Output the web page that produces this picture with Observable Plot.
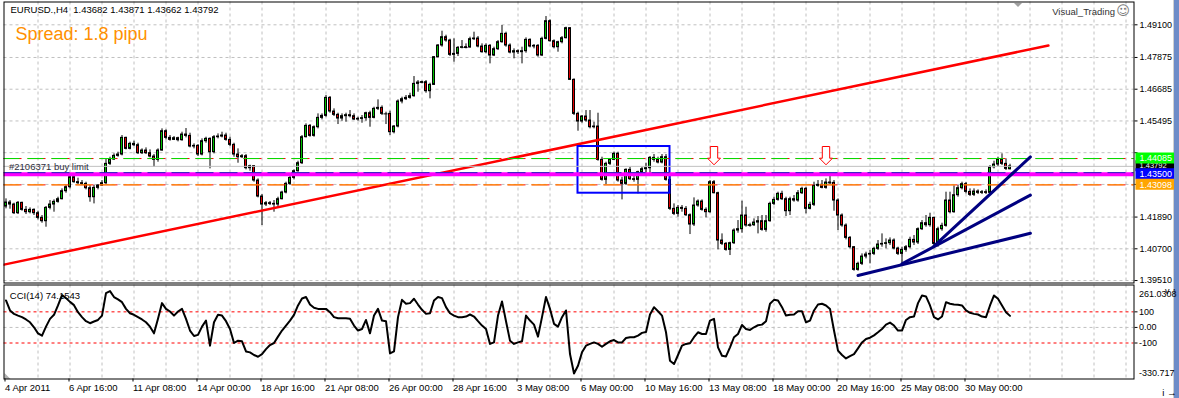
<!DOCTYPE html>
<html><head><meta charset="utf-8">
<script src="https://cdn.jsdelivr.net/npm/d3@7"></script>
<script src="https://cdn.jsdelivr.net/npm/@observablehq/plot@0.6"></script>
<style>
body{margin:0;background:#fff;}
#wrap{position:relative;width:1179px;height:398px;overflow:hidden;background:#fff;}
#wrap svg{position:absolute;left:0;overflow:visible;}
#strip{position:absolute;left:1173px;top:0;width:6px;height:398px;background:#6d8cc8;border-left:1px solid #d0d0d0;}
</style></head><body><div id="wrap"><div id="strip"></div></div>
<script>
const opens = [1.42285,1.42435,1.4236,1.42035,1.42423,1.4216,1.42073,1.4216,1.42035,1.4186,
1.41735,1.42235,1.4236,1.4246,1.4256,1.4286,1.4301,1.43385,1.43198,1.4316,
1.43135,1.42973,1.42635,1.42985,1.43073,1.4316,1.43885,1.44048,1.44185,1.44235,
1.4486,1.44448,1.44635,1.44585,1.44285,1.44385,1.44285,1.4416,1.44035,1.44385,
1.4511,1.4486,1.44785,1.44848,1.44773,1.44985,1.44935,1.44535,1.4456,1.44235,
1.44735,1.44823,1.44323,1.44885,1.4491,1.44948,1.44785,1.44598,1.44235,1.44135,
1.44173,1.43723,1.43798,1.4326,1.4266,1.4236,1.4241,1.42385,1.4236,1.4256,
1.4281,1.43135,1.4336,1.4361,1.4391,1.44885,1.4531,1.44935,1.4526,1.4561,
1.45685,1.4636,1.45848,1.45723,1.45585,1.45673,1.4571,1.45673,1.45548,1.45573,
1.45598,1.45785,1.4561,1.45948,1.45985,1.4576,1.4576,1.45073,1.45285,1.46223,
1.4631,1.4636,1.46423,1.46885,1.46935,1.46948,1.4661,1.46848,1.47885,1.48323,
1.48635,1.4851,1.47973,1.4801,1.48235,1.4826,1.48248,1.4856,1.48585,1.48285,
1.48073,1.4831,1.47948,1.48185,1.48448,1.4876,1.48323,1.4806,1.4811,1.48073,
1.4811,1.48535,1.48285,1.4831,1.47948,1.48573,1.49235,1.48485,1.4826,1.48448,
1.48598,1.48973,1.47035,1.4576,1.45473,1.4566,1.4551,1.4526,1.45285,1.44035,
1.43285,1.43885,1.44035,1.4426,1.4326,1.43135,1.4366,1.4331,1.43285,1.43573,
1.43685,1.43723,1.4411,1.44035,1.43935,1.44135,1.43285,1.42198,1.4201,1.42235,
1.42198,1.4196,1.4161,1.42323,1.42473,1.4216,1.42073,1.43198,1.42785,1.4101,
1.40885,1.4066,1.4091,1.41385,1.41435,1.41948,1.41573,1.41585,1.41685,1.41735,
1.4141,1.41735,1.42385,1.42535,1.4276,1.4256,1.4211,1.4256,1.4251,1.42785,
1.42948,1.42198,1.42348,1.4306,1.43098,1.42985,1.43185,1.43173,1.4251,1.41948,
1.41573,1.4111,1.4076,1.3991,1.40135,1.4041,1.40485,1.4051,1.40698,1.4086,
1.40885,1.4091,1.4101,1.4071,1.4051,1.4066,1.4076,1.41035,1.40935,1.41435,
1.4166,1.41585,1.4186,1.40885,1.41435,1.4156,1.4251,1.42073,1.4271,1.42973,
1.43123,1.42835,1.42723,1.42848,1.42798,1.42823,1.42798,1.4376,1.4386,1.44035,
1.43885,1.43682];
const highs = [1.42573,1.4251,1.4241,1.42473,1.42448,1.42285,1.42235,1.42198,1.4211,1.41948,
1.42285,1.4251,1.42535,1.42635,1.42948,1.43073,1.4351,1.43448,1.43348,1.4326,
1.43198,1.43073,1.43073,1.4311,1.4326,1.44073,1.44135,1.4426,1.44323,1.44948,
1.44885,1.44698,1.44735,1.4466,1.44448,1.44485,1.4441,1.44235,1.44448,1.45198,
1.4516,1.44948,1.4491,1.44885,1.45073,1.4521,1.45035,1.44635,1.4461,1.44823,
1.44885,1.4486,1.44948,1.4501,1.45073,1.45035,1.44885,1.4466,1.44448,1.44235,
1.44235,1.43835,1.43823,1.43323,1.42735,1.42473,1.42473,1.4251,1.42635,1.4286,
1.43198,1.4341,1.4366,1.43985,1.44948,1.45385,1.4536,1.4531,1.4576,1.4576,
1.46448,1.4641,1.45948,1.45785,1.4576,1.45785,1.45885,1.4576,1.45635,1.45698,
1.45823,1.4586,1.4601,1.46285,1.4606,1.45823,1.4586,1.45323,1.46285,1.46385,
1.46448,1.46535,1.4716,1.4701,1.46985,1.4701,1.4691,1.4791,1.4836,1.4886,
1.4871,1.4856,1.48573,1.48285,1.4851,1.48385,1.48635,1.48823,1.4866,1.48385,
1.48385,1.4836,1.4826,1.4851,1.49073,1.48823,1.48385,1.48198,1.4816,1.4826,
1.4861,1.48573,1.4836,1.4836,1.48635,1.4941,1.49285,1.48535,1.48485,1.4866,
1.4901,1.48985,1.47073,1.45823,1.45698,1.45885,1.45885,1.45448,1.45785,1.44135,
1.43948,1.44073,1.44323,1.44323,1.43385,1.43698,1.4376,1.4341,1.4361,1.4376,
1.4391,1.4416,1.44235,1.44135,1.44235,1.44235,1.4351,1.42385,1.42323,1.42323,
1.42285,1.4201,1.4261,1.42535,1.42535,1.42235,1.4326,1.4326,1.42823,1.4126,
1.40935,1.40948,1.41448,1.4176,1.42485,1.4226,1.4166,1.41823,1.4191,1.41948,
1.41948,1.42448,1.42635,1.42823,1.4286,1.42635,1.42635,1.42698,1.42885,1.4301,
1.4301,1.42448,1.43198,1.4326,1.4326,1.43323,1.4341,1.4326,1.42573,1.4201,
1.41635,1.4116,1.40785,1.40198,1.4051,1.40573,1.40635,1.4076,1.4101,1.4126,
1.41073,1.4111,1.41073,1.4076,1.4076,1.40823,1.41135,1.41198,1.41485,1.4176,
1.41948,1.42035,1.41885,1.4151,1.4166,1.42823,1.42823,1.4306,1.43073,1.43198,
1.43185,1.42948,1.42948,1.4291,1.42885,1.4291,1.43823,1.43985,1.44135,1.4426,
1.44073,1.43871];
const lows = [1.42198,1.42185,1.41985,1.41985,1.4211,1.41985,1.4201,1.41948,1.41785,1.4166,
1.4151,1.4216,1.42073,1.4241,1.42535,1.42785,1.42948,1.4316,1.4311,1.43073,
1.4291,1.42448,1.42385,1.4291,1.43035,1.4311,1.43823,1.4401,1.44135,1.44185,
1.4441,1.4441,1.44535,1.44235,1.44235,1.44235,1.4411,1.4376,1.43948,1.4436,
1.44785,1.44735,1.4476,1.4471,1.44735,1.4486,1.44485,1.44448,1.4416,1.44185,
1.4466,1.43698,1.4426,1.44823,1.4486,1.44735,1.44535,1.44135,1.4391,1.44085,
1.4366,1.4361,1.43198,1.4261,1.41573,1.42285,1.42323,1.42073,1.42235,1.42535,
1.4276,1.43073,1.43285,1.43573,1.4386,1.4486,1.44885,1.44885,1.45198,1.45535,
1.45635,1.45785,1.4566,1.4536,1.45485,1.45448,1.4561,1.4551,1.45485,1.4541,
1.45485,1.4526,1.45573,1.45885,1.45698,1.4536,1.44948,1.4501,1.45235,1.46135,
1.4626,1.4631,1.46385,1.46573,1.46885,1.46535,1.46323,1.46823,1.4786,1.4826,
1.48448,1.4791,1.47698,1.4791,1.48198,1.48198,1.48223,1.4851,1.48235,1.48035,
1.4801,1.47635,1.4791,1.48135,1.4841,1.4826,1.4801,1.47823,1.47985,1.47635,
1.48035,1.48235,1.48198,1.47885,1.4791,1.48535,1.48448,1.48198,1.48073,1.48385,
1.48573,1.4701,1.45698,1.4511,1.4541,1.45448,1.45198,1.45198,1.43985,1.43235,
1.4311,1.43823,1.4401,1.43198,1.42535,1.43073,1.4326,1.43198,1.4276,1.4351,
1.43485,1.4351,1.43948,1.43885,1.43885,1.43235,1.42135,1.41948,1.41885,1.42073,
1.4191,1.41235,1.41535,1.4226,1.4211,1.4186,1.42035,1.4276,1.4066,1.40823,
1.4061,1.40448,1.4086,1.41285,1.41285,1.4151,1.4151,1.41535,1.4126,1.4136,
1.41323,1.41698,1.42323,1.42485,1.4251,1.4191,1.41948,1.42448,1.42448,1.42735,
1.4201,1.4216,1.42285,1.4301,1.42948,1.42935,1.4311,1.4211,1.41385,1.4151,
1.41035,1.40698,1.3986,1.3986,1.40073,1.40323,1.40135,1.40448,1.40635,1.4076,
1.40698,1.40823,1.4066,1.40448,1.40135,1.40573,1.40698,1.40823,1.4086,1.41385,
1.4151,1.4151,1.40735,1.4076,1.4136,1.4151,1.4201,1.42035,1.42635,1.4291,
1.4276,1.4266,1.4266,1.42735,1.42735,1.42735,1.42735,1.43698,1.43785,1.43823,
1.43635,1.43662];
const closes = [1.42435,1.4236,1.42035,1.42423,1.4216,1.42073,1.4216,1.42035,1.4186,1.41735,
1.42235,1.4236,1.4246,1.4256,1.4286,1.4301,1.43385,1.43198,1.4316,1.43135,
1.42973,1.42635,1.42985,1.43073,1.4316,1.43885,1.44048,1.44185,1.44235,1.4486,
1.44448,1.44635,1.44585,1.44285,1.44385,1.44285,1.4416,1.44035,1.44385,1.4511,
1.4486,1.44785,1.44848,1.44773,1.44985,1.44935,1.44535,1.4456,1.44235,1.44735,
1.44823,1.44323,1.44885,1.4491,1.44948,1.44785,1.44598,1.44235,1.44135,1.44173,
1.43723,1.43798,1.4326,1.4266,1.4236,1.4241,1.42385,1.4236,1.4256,1.4281,
1.43135,1.4336,1.4361,1.4391,1.44885,1.4531,1.44935,1.4526,1.4561,1.45685,
1.4636,1.45848,1.45723,1.45585,1.45673,1.4571,1.45673,1.45548,1.45573,1.45598,
1.45785,1.4561,1.45948,1.45985,1.4576,1.4576,1.45073,1.45285,1.46223,1.4631,
1.4636,1.46423,1.46885,1.46935,1.46948,1.4661,1.46848,1.47885,1.48323,1.48635,
1.4851,1.47973,1.4801,1.48235,1.4826,1.48248,1.4856,1.48585,1.48285,1.48073,
1.4831,1.47948,1.48185,1.48448,1.4876,1.48323,1.4806,1.4811,1.48073,1.4811,
1.48535,1.48285,1.4831,1.47948,1.48573,1.49235,1.48485,1.4826,1.48448,1.48598,
1.48973,1.47035,1.4576,1.45473,1.4566,1.4551,1.4526,1.45285,1.44035,1.43285,
1.43885,1.44035,1.4426,1.4326,1.43135,1.4366,1.4331,1.43285,1.43573,1.43685,
1.43723,1.4411,1.44035,1.43935,1.44135,1.43285,1.42198,1.4201,1.42235,1.42198,
1.4196,1.4161,1.42323,1.42473,1.4216,1.42073,1.43198,1.42785,1.4101,1.40885,
1.4066,1.4091,1.41385,1.41435,1.41948,1.41573,1.41585,1.41685,1.41735,1.4141,
1.41735,1.42385,1.42535,1.4276,1.4256,1.4211,1.4256,1.4251,1.42785,1.42948,
1.42198,1.42348,1.4306,1.43098,1.42985,1.43185,1.43173,1.4251,1.41948,1.41573,
1.4111,1.4076,1.3991,1.40135,1.4041,1.40485,1.4051,1.40698,1.4086,1.40885,
1.4091,1.4101,1.4071,1.4051,1.4066,1.4076,1.41035,1.40935,1.41435,1.4166,
1.41585,1.4186,1.40885,1.41435,1.4156,1.4251,1.42073,1.4271,1.42973,1.43123,
1.42835,1.42723,1.42848,1.42798,1.42823,1.42798,1.4376,1.4386,1.44035,1.43885,
1.43698,1.43792];
const cciValues = [173,109,87,76,66,51,33,1,-38,-53,
5,55,81,141,207,188,164,143,98,66,
40,27,38,48,76,220,233,195,180,162,
119,91,81,66,51,33,5,-38,55,156,
119,102,76,102,119,55,-20,-55,-48,5,
44,-117,33,81,76,40,-10,-100,-85,-89,
-154,-160,-177,-188,-171,-139,-113,-100,-59,-20,
12,44,81,141,186,195,147,126,119,119,
119,98,66,59,59,59,55,12,-20,-10,
48,-38,76,119,44,40,-167,-154,66,177,
152,156,184,147,113,87,91,173,195,188,
130,91,76,66,66,70,83,70,40,12,
-10,-106,-96,76,167,40,-85,-106,-96,-89,
76,44,18,-59,66,195,119,23,5,66,
109,-171,-296,-246,-160,-117,-106,-96,-106,-124,
-106,-89,-81,-96,-96,-68,-63,-63,-53,-35,
-29,83,130,104,76,-31,-214,-235,-177,-117,
-106,-102,-63,-31,-42,-42,44,55,-128,-182,
-186,-128,-63,-42,16,-10,-16,1,14,18,
40,152,177,173,130,76,81,83,104,104,
33,44,109,147,152,141,119,-20,-149,-177,
-199,-184,-171,-134,-96,-74,-66,-51,-31,-10,
18,31,12,-20,-20,48,66,70,156,205,
199,141,66,51,70,162,152,147,145,141,
109,94,87,83,70,66,141,205,184,141,
98,74.1543];

const timeLabels = ["4 Apr 2011","6 Apr 16:00","11 Apr 08:00","14 Apr 00:00","18 Apr 16:00","21 Apr 08:00","26 Apr 00:00","28 Apr 16:00","3 May 08:00","6 May 00:00","10 May 16:00","13 May 08:00","18 May 00:00","20 May 16:00","25 May 08:00","30 May 00:00"];
const labelBars = [0,16,32,48,64,80,96,112,128,144,160,176,192,208,224,240];
const gridBars = [8,16,24,32,40,48,56,64,72,80,88,96,104,112,120,128,136,144,152,160,168,176,184,192,200,208,216,224,232,240,248,256,264,272,280];
const priceTicks = [1.49100,1.47875,1.46685,1.45495,1.44305,1.43115,1.41890,1.40700,1.39510];
const priceLabels = [1.49100,1.47875,1.46685,1.45495,1.41890,1.40700,1.39510];
const cciTicks = [100,0,-100];
const cciLevels = [100,-100];
const cciMax = 261.0308, cciMin = -330.717;

const tpLevel = 1.44085, bidLevel = 1.43792, limitLevel = 1.43500, slLevel = 1.43098;
const redTrendBars = [-0.5, 260.6];
const redTrendPrices = [1.40107, 1.48324];
const boxBars = [143, 166];
const boxPrices = [1.44536, 1.42785];
const fanBars = [[213, 256.1], [224, 256.1], [232, 256.1]];
const fanPrices = [[1.39699, 1.41281], [1.40138, 1.42714], [1.40798, 1.44146]];
const arrowBars = [177, 205];
const arrowPrice = 1.4385;

const titleText = "EURUSD.,H4  1.43682 1.43871 1.43662 1.43792";
const spreadText = "Spread: 1.8 pipu";
const orderText = "#2106371 buy limit";
const cciText = "CCI(14) 74.1543";
const brandText = "Visual_Trading";

const FONT = "'Liberation Sans', Arial, sans-serif";
const W = 1179, ML = 3.5, MR = 45.5;
const xDom = [-0.5, 282];

const bars = opens.map((o, i) => ({i, o, h: highs[i], l: lows[i], c: closes[i]}));
const upBars = bars.filter(d => d.c >= d.o);
const dnBars = bars.filter(d => d.c < d.o);
const redTrend = redTrendBars.map((b, k) => ({i: b, p: redTrendPrices[k]}));
const fans = fanBars.map((bs, k) => bs.map((b, j) => ({i: b, p: fanPrices[k][j]})));
const arrows = arrowBars.map(b => ({i: b, p: arrowPrice}));
const cciData = cciValues.map((v, i) => ({i, v}));
const labelMap = new Map(labelBars.map((b, k) => [b, timeLabels[k]]));
const boxRect = [{x1: boxBars[0], x2: boxBars[1], y1: boxPrices[0], y2: boxPrices[1]}];

const arrowSym = {draw(ctx) {
  ctx.moveTo(-3.7, -18.3); ctx.lineTo(3.7, -18.3); ctx.lineTo(3.7, -6.6); ctx.lineTo(6.5, -6.6);
  ctx.lineTo(0, 0); ctx.lineTo(-6.5, -6.6); ctx.lineTo(-3.7, -6.6); ctx.closePath();
}};
const boxSym = {draw(ctx) { ctx.rect(1.5, -6, 38.5, 11); }};
const shiftSym = {draw(ctx) { ctx.moveTo(-4, 0); ctx.lineTo(4, 0); ctx.lineTo(0, 4); ctx.closePath(); }};
const cornerSym = {draw(ctx) { ctx.moveTo(0.5, 0); ctx.lineTo(0.5, -6); ctx.lineTo(6.5, 0); ctx.closePath(); }};

const boxes = [
  {p: bidLevel, bg: "#000000", fs: 7.5, dy: -1},
  {p: tpLevel, bg: "#00ff00", fs: 9, dy: 0},
  {p: limitLevel, bg: "#0000ff", fs: 9, dy: 0},
  {p: slLevel, bg: "#ffa500", fs: 9, dy: 0}
];

const main = Plot.plot({
  width: W, height: 284,
  marginLeft: ML, marginRight: MR, marginTop: 1.5, marginBottom: 1.5,
  x: {domain: xDom, axis: null},
  y: {domain: [1.39418, 1.49955], axis: null},
  style: {fontFamily: FONT, fontSize: "9.5px", background: "transparent", overflow: "visible"},
  marks: [
    Plot.ruleY(priceTicks, {stroke: "#c0c0c0", strokeDasharray: "3,3"}),
    Plot.ruleX(gridBars, {stroke: "#c0c0c0", strokeDasharray: "3,3"}),
    Plot.ruleX(bars, {x: "i", y1: "l", y2: "h", stroke: "black"}),
    Plot.rect(upBars, {x1: d => d.i - 0.25, x2: d => d.i + 0.25, y1: "o", y2: "c", fill: "#00c000", stroke: "black"}),
    Plot.rect(dnBars, {x1: d => d.i - 0.25, x2: d => d.i + 0.25, y1: "o", y2: "c", fill: "#e00000", stroke: "black"}),
    Plot.ruleY(bars.filter(d => Math.abs(d.c - d.o) < 0.0002), {y: "c", x1: d => d.i - 0.5, x2: d => d.i + 0.5, stroke: "black"}),
    Plot.line(redTrend, {x: "i", y: "p", stroke: "#ff0000", strokeWidth: 2.5, clip: true}),
    Plot.rect(boxRect, {x1: "x1", x2: "x2", y1: "y1", y2: "y2", fill: "none", stroke: "#0000ff", strokeWidth: 2}),
    Plot.ruleY([tpLevel], {stroke: "#ff0000", strokeDasharray: "18,6"}),
    Plot.ruleY([tpLevel], {stroke: "#00e000", strokeDasharray: "16,8"}),
    Plot.ruleY([bidLevel], {stroke: "#c0c0c0"}),
    Plot.ruleY([limitLevel], {stroke: "#ff00ff", strokeWidth: 4}),
    Plot.ruleY([limitLevel], {stroke: "#2020c0", strokeDasharray: "18,6", strokeWidth: 1, dy: -1.5}),
    Plot.ruleY([slLevel], {stroke: "#ff0000", strokeDasharray: "18,6"}),
    Plot.ruleY([slLevel], {stroke: "#ffa500", strokeDasharray: "16,8"}),
    ...fans.map(f => Plot.line(f, {x: "i", y: "p", stroke: "#000080", strokeWidth: 3})),
    Plot.dot(arrows, {x: "i", y: "p", symbol: arrowSym, fill: "white", stroke: "#ff0000", strokeWidth: 1}),
    Plot.dot([253], {x: d => d, frameAnchor: "top", symbol: shiftSym, fill: "#a0a0a0", stroke: "none", dy: 1}),
    Plot.frame({stroke: "black"}),
    Plot.axisY(priceTicks, {anchor: "right", tickSize: 3, tickPadding: 2, text: null, stroke: "black"}),
    Plot.axisY(priceLabels, {anchor: "right", tickSize: 0, tickPadding: 5.5, tickFormat: d => d.toFixed(5), fill: "black", fontSize: 9}),
    ...boxes.flatMap(b => [
      Plot.dot([b.p], {y: d => d, frameAnchor: "right", symbol: boxSym, fill: b.bg, stroke: "none"}),
      Plot.text([b.p], {y: d => d, frameAnchor: "right", dx: 5.5, dy: b.dy, textAnchor: "start", text: d => d.toFixed(5), fill: "white", fontSize: b.fs})
    ]),
    Plot.text([titleText], {frameAnchor: "top-left", dx: 6.5, dy: 10.8, textAnchor: "start", lineAnchor: "bottom", fill: "black", fontSize: 9.5}),
    Plot.text([spreadText], {frameAnchor: "top-left", dx: 11.5, dy: 37.8, textAnchor: "start", lineAnchor: "bottom", fill: "#ff9000", fontSize: 18}),
    Plot.text([limitLevel], {frameAnchor: "left", y: d => d, dx: 5, dy: -4, text: () => orderText, textAnchor: "start", lineAnchor: "bottom", fill: "#303040", fontSize: 9.5}),
    Plot.text([brandText], {frameAnchor: "top-right", dx: -19, dy: 12.5, textAnchor: "end", lineAnchor: "bottom", fill: "#333", fontSize: 9.5}),
    Plot.text(["\u263A"], {frameAnchor: "top-right", dx: -11, dy: 9, textAnchor: "middle", lineAnchor: "middle", fill: "#777", fontSize: 13, fontFamily: "DejaVu Sans"})
  ]
});
main.style.top = "0px";

const cciPlot = Plot.plot({
  width: W, height: 114,
  marginLeft: ML, marginRight: MR, marginTop: 0.5, marginBottom: 19.5,
  x: {domain: xDom, axis: null},
  y: {domain: [-331, 272.3], axis: null},
  style: {fontFamily: FONT, fontSize: "9.5px", background: "transparent", overflow: "visible"},
  marks: [
    Plot.ruleX(gridBars, {stroke: "#c0c0c0", strokeDasharray: "3,3"}),
    Plot.ruleY([0], {stroke: "#c0c0c0", strokeDasharray: "3,3"}),
    Plot.ruleY(cciLevels, {stroke: "#ff0000", strokeDasharray: "3,3"}),
    Plot.line(cciData, {x: "i", y: "v", stroke: "black", strokeWidth: 2}),
    Plot.dot([0], {frameAnchor: "bottom-left", symbol: cornerSym, fill: "#b0b0b0", stroke: "none"}),
    Plot.frame({stroke: "black"}),
    Plot.axisY(cciTicks, {anchor: "right", tickSize: 3, tickPadding: 2, tickFormat: d => d === 0 ? "0.00" : String(d), fill: "black", fontSize: 9}),
    Plot.text([cciMax], {y: d => d, frameAnchor: "right", dx: 5, dy: 7, textAnchor: "start", text: d => String(d), fill: "black", fontSize: 9}),
    Plot.text([cciMin], {y: d => d, frameAnchor: "right", dx: 5, dy: -5.7, textAnchor: "start", text: d => String(d), fill: "black", fontSize: 9}),
    Plot.text([cciText], {frameAnchor: "top-left", dx: 5.8, dy: 14, textAnchor: "start", lineAnchor: "bottom", fill: "black", fontSize: 9.5}),
    Plot.axisX(labelBars, {anchor: "bottom", tickSize: 3, tickPadding: 2, tickFormat: d => labelMap.get(d), textAnchor: "start", dx: -1, fill: "black", fontSize: 9.5})
  ]
});
cciPlot.style.top = "284px";

const wrap = document.getElementById("wrap");
wrap.appendChild(main);
wrap.appendChild(cciPlot);
</script>
</body></html>
